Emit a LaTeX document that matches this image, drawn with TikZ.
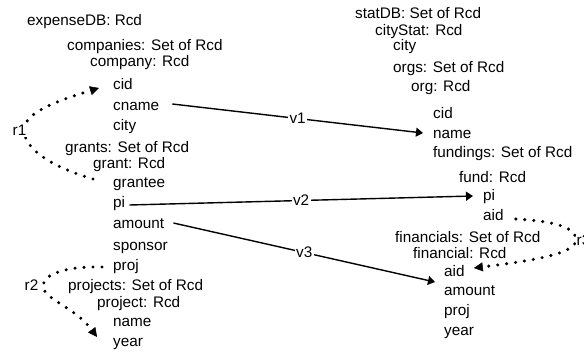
\documentclass[tikz,border=0pt]{standalone}
\usepackage{fontspec}
\setmainfont{Liberation Sans}
\usetikzlibrary{arrows.meta,calc}
\tikzset{
  t/.style={anchor=base west, inner sep=0pt, font=\fontsize{15.3}{18}\selectfont},
  lab/.style={fill=white, inner sep=1.5pt, font=\fontsize{15.3}{18}\selectfont},
  arr/.style={line width=1.4pt, -{Triangle[length=7pt,width=9pt]}},
  dotarr/.style={line width=3.4pt, line cap=round, dash pattern=on 0pt off 9pt,
     -{Triangle[length=9pt,width=9pt,line width=0.5pt]}},
}
\begin{document}
\begin{tikzpicture}[x=1pt,y=-1pt]
\useasboundingbox (0,0) rectangle (584,351);
% left schema
\node[t] (expdb) at (27,25) {expenseDB: Rcd};
\node[t] (comps) at (67,50) {companies: Set of Rcd};
\node[t] (comp) at (90,66) {company: Rcd};
\node[t] (lcid) at (113,89) {cid};
\node[t] (lcname) at (113,110) {cname};
\node[t] (lcity) at (113,130) {city};
\node[t] (grants) at (65,152) {grants: Set of Rcd};
\node[t] (grant) at (93,168) {grant: Rcd};
\node[t] (lgrantee) at (113,187) {grantee};
\node[t] (lpi) at (113,207) {pi};
\node[t] (lamount) at (113,228) {amount};
\node[t] (lsponsor) at (113,250) {sponsor};
\node[t] (lproj) at (113,270) {proj};
\node[t] (projs) at (68,290) {projects: Set of Rcd};
\node[t] (proj) at (97,307) {project: Rcd};
\node[t] (lname) at (113,326) {name};
\node[t] (lyear) at (113,346) {year};
% right schema
\node[t] (statdb) at (355,18) {statDB: Set of Rcd};
\node[t] (citystat) at (375,35) {cityStat: Rcd};
\node[t] (rcity) at (393,50) {city};
\node[t] (orgs) at (393,72) {orgs: Set of Rcd};
\node[t] (org) at (411,91) {org: Rcd};
\node[t] (rcid) at (433,118) {cid};
\node[t] (rname) at (433,138) {name};
\node[t] (fundings) at (433,157) {fundings: Set of Rcd};
\node[t] (fund) at (459,182) {fund: Rcd};
\node[t] (rpi) at (483,200) {pi};
\node[t] (raid) at (483,220) {aid};
\node[t] (financials) at (395,242) {financials: Set of Rcd};
\node[t] (financial) at (413,258) {financial: Rcd};
\node[t] (faid) at (444,276) {aid};
\node[t] (famount) at (444,295) {amount};
\node[t] (fproj) at (444,315) {proj};
\node[t] (fyear) at (444,335) {year};
% value correspondences
\draw[arr] ([xshift=13pt,yshift=6pt]lcname.base east) -- node[lab]{v1} ([xshift=-10pt,yshift=5pt]rname.base west);
\draw[arr] ([xshift=4pt,yshift=2pt]lpi.base east) -- node[lab]{v2} ([xshift=-10pt,yshift=4pt]rpi.base west);
\draw[arr] ([xshift=9pt,yshift=5pt]lamount.base east) -- node[lab]{v3} ([xshift=-9pt,yshift=13pt]famount.base west);
% referential constraints
\coordinate (r1pt) at (24,130);
\draw[dotarr] ([xshift=-20pt,yshift=8pt]lgrantee.base west) .. controls (55,168) and (24,150) .. (r1pt)
   .. controls (24,112) and (60,100) .. ([xshift=-14pt,yshift=1pt]lcid.base west);
\node[lab, inner sep=1pt] (r1) at (19.5,130.5) {r1};
\coordinate (r2pt) at (43,286);
\draw[dotarr] ([xshift=-11pt,yshift=3pt]lproj.base west) .. controls (70,266) and (43,273) .. (r2pt)
   .. controls (43,299) and (75,307) .. ([xshift=-16pt,yshift=-11pt]lname.base west);
\node[lab, inner sep=0.5pt] (r2) at (31.5,285) {r2};
\coordinate (r3pt) at (576,240);
\draw[dotarr] ([xshift=12pt,yshift=1pt]raid.base east) .. controls (550,221) and (576,226) .. (r3pt)
   .. controls (576,254) and (530,261) .. ([xshift=9pt,yshift=8pt]faid.base east);
\node[lab, inner sep=1pt] (r3) at (583.5,240) {r3};
\end{tikzpicture}
\end{document}
